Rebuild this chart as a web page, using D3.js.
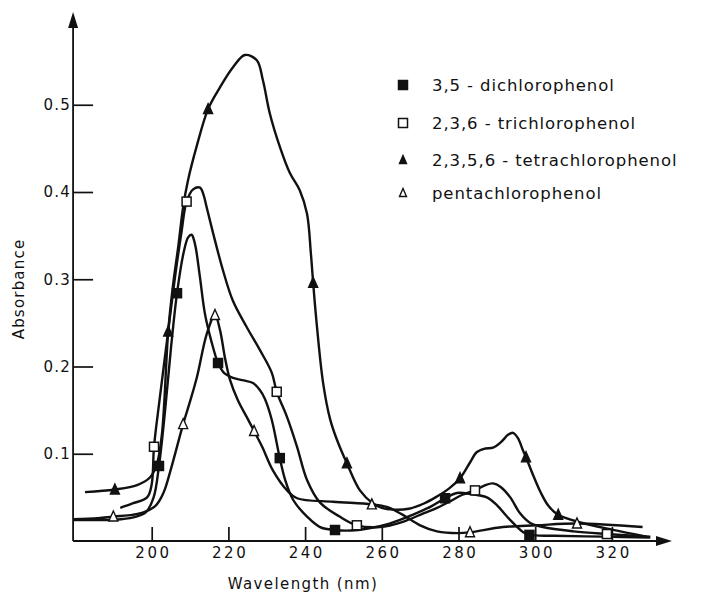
<!DOCTYPE html>
<html>
<head>
<meta charset="utf-8">
<script src="https://cdn.jsdelivr.net/npm/d3@7"></script>
<style>
  body { margin: 0; background: #fff; }
  text { font-family: 'DejaVu Sans', sans-serif; fill: #111; }
</style>
</head>
<body>
<svg id="chart" width="703" height="595"></svg>
<script>
// wavelength (nm), absorbance
const xTicks = [200, 220, 240, 260, 280, 300, 320];
const yTicks = [0.1, 0.2, 0.3, 0.4, 0.5];

const dichloroCurve = [
  [179.5, 0.024], [186, 0.024], [192, 0.025], [196, 0.028], [198.5, 0.033], [200.5, 0.05],
  [201.9, 0.086], [203.5, 0.15], [205, 0.22], [206.6, 0.284], [208.3, 0.33], [209.5, 0.348],
  [210.4, 0.351], [211.3, 0.34], [212.5, 0.305], [213.9, 0.26], [215.5, 0.23], [217.3, 0.204],
  [219, 0.192], [221.2, 0.187], [224, 0.184], [226.4, 0.181], [228.2, 0.173], [229.5, 0.163],
  [231.3, 0.139], [233.4, 0.095], [234.8, 0.07], [236.9, 0.047], [240.5, 0.028], [243.9, 0.016],
  [247.8, 0.0126], [252, 0.012], [256, 0.014], [262, 0.02], [268, 0.03], [273, 0.04],
  [276.5, 0.049], [279.6, 0.055], [283, 0.054], [287.4, 0.05], [290, 0.041], [293.5, 0.024],
  [296.9, 0.01], [298.5, 0.007], [305, 0.006], [317.7, 0.005], [330, 0.004]
];
const dichloroMarks = [[201.9, 0.086], [206.6, 0.284], [217.3, 0.204], [233.4, 0.095], [247.8, 0.0126], [276.5, 0.049], [298.5, 0.007]];

const trichloroCurve = [
  [191.8, 0.038], [195, 0.043], [198.8, 0.05], [200, 0.065], [200.6, 0.108], [202, 0.16],
  [204, 0.23], [206, 0.3], [207.8, 0.355], [209.1, 0.389], [210.8, 0.403], [212.6, 0.405],
  [213.5, 0.397], [214.3, 0.383], [216, 0.353], [218.6, 0.31], [221.2, 0.275], [224.8, 0.245],
  [228.2, 0.219], [231.3, 0.193], [232.6, 0.171], [235.3, 0.142], [237.9, 0.108], [240.5, 0.07],
  [243.9, 0.044], [249, 0.028], [253.5, 0.018], [259.5, 0.016], [265.5, 0.022], [271, 0.032],
  [274.4, 0.038], [278, 0.046], [281, 0.053], [284.3, 0.058], [287, 0.064], [289, 0.066],
  [291, 0.062], [293.5, 0.05], [296, 0.032], [298.6, 0.021], [302, 0.016], [310, 0.011],
  [318.7, 0.008], [330, 0.005]
];
const trichloroMarks = [[200.6, 0.108], [209.1, 0.389], [232.6, 0.171], [253.5, 0.018], [284.3, 0.058], [318.7, 0.008]];

const tetrachloroCurve = [
  [182.6, 0.056], [190.4, 0.059], [196.2, 0.064], [199.6, 0.073], [201.4, 0.089], [202.7, 0.124],
  [204.3, 0.24], [205.5, 0.291], [207, 0.34], [208.2, 0.383], [209.5, 0.414], [211.7, 0.452],
  [214.7, 0.495], [217.8, 0.52], [221.2, 0.543], [224.3, 0.557], [227.4, 0.551], [229, 0.528],
  [230.8, 0.49], [233.4, 0.452], [236, 0.422], [238.6, 0.402], [240.5, 0.375], [241.5, 0.33],
  [242.1, 0.296], [243, 0.25], [244.7, 0.181], [246.5, 0.14], [248.3, 0.116], [250.9, 0.089],
  [254.3, 0.058], [257.7, 0.043], [260, 0.038], [263, 0.036], [267, 0.037], [271, 0.043],
  [274, 0.05], [277.5, 0.06], [280.4, 0.072], [283, 0.09], [284.8, 0.102], [287, 0.106],
  [289, 0.107], [291, 0.113], [293, 0.122], [294.2, 0.124], [295.5, 0.118], [296.8, 0.104],
  [297.6, 0.096], [299.5, 0.075], [301.5, 0.055], [303.5, 0.04], [306, 0.03], [312, 0.021],
  [320, 0.013], [329, 0.005]
];
const tetrachloroMarks = [[190.4, 0.059], [204.3, 0.24], [214.7, 0.495], [242.1, 0.296], [250.9, 0.089], [280.4, 0.072], [297.6, 0.096], [306, 0.03]];

const pentachloroCurve = [
  [179.5, 0.025], [186, 0.026], [190, 0.028], [195, 0.03], [198, 0.033], [200.9, 0.04],
  [202.5, 0.05], [203.5, 0.06], [205.3, 0.087], [208.2, 0.134], [210, 0.16], [211.8, 0.188],
  [214.4, 0.238], [216.5, 0.259], [217.8, 0.242], [219.1, 0.21], [220.4, 0.185], [222.5, 0.161],
  [224.8, 0.142], [226.7, 0.126], [228.8, 0.108], [231.6, 0.081], [235.3, 0.058], [237.9, 0.049],
  [247.3, 0.045], [257.4, 0.042], [261.3, 0.039], [265.5, 0.03], [270, 0.018], [274.4, 0.011],
  [279.9, 0.009], [283, 0.01], [291.6, 0.016], [300.4, 0.018], [310.9, 0.02], [328, 0.016]
];
const pentachloroMarks = [[190, 0.028], [208.2, 0.134], [216.5, 0.259], [226.7, 0.126], [257.4, 0.042], [283, 0.01], [310.9, 0.02]];

const legendLabels = ['3,5 - dichlorophenol', '2,3,6 - trichlorophenol', '2,3,5,6 - tetrachlorophenol', 'pentachlorophenol'];
const markerKinds = ['squareFilled', 'squareOpen', 'triangleFilled', 'triangleOpen'];

const svg = d3.select('#chart');

const x = d3.scaleLinear().domain([200, 320]).range([151.7, 611.9]);
const y = d3.scaleLinear().domain([0, 0.5]).range([541, 104.75]);
const x0 = x(179.5);

// axes
const xAxis = svg.append('g')
  .attr('transform', `translate(0,${y(0)})`)
  .call(d3.axisBottom(x).tickValues(xTicks).tickSize(-14).tickPadding(6).tickFormat(d3.format('d')));
const yAxis = svg.append('g')
  .attr('transform', `translate(${x0},0)`)
  .call(d3.axisLeft(y).tickValues(yTicks).tickSize(-20).tickPadding(2).tickFormat(d3.format('.1f')));
[xAxis, yAxis].forEach((g) => {
  g.select('.domain').remove();
  g.selectAll('line').attr('stroke', '#111').attr('stroke-width', 1.7);
  g.selectAll('text')
    .attr('font-size', 15)
    .style('font-family', "'DejaVu Sans', sans-serif")
    .attr('fill', '#111');
});
xAxis.selectAll('text').style('letter-spacing', '2.5px').attr('dx', '1.2px');
yAxis.selectAll('text').style('letter-spacing', '1.2px');

svg.append('path')
  .attr('d', `M${x0},${y(0)}H662M${x0},${y(0)}V26`)
  .attr('fill', 'none').attr('stroke', '#111').attr('stroke-width', 1.8);
svg.append('path')
  .attr('d', `M${x0},12L${x0 - 5},28L${x0 + 5},28Z M672,${y(0)}L656,${y(0) - 5}L656,${y(0) + 5}Z`)
  .attr('fill', '#111');

// curves
const line = d3.line()
  .x((d) => x(d[0]))
  .y((d) => y(d[1]))
  .curve(d3.curveCatmullRom.alpha(0.5));

const series = [
  { curve: dichloroCurve, marks: dichloroMarks, kind: markerKinds[0] },
  { curve: trichloroCurve, marks: trichloroMarks, kind: markerKinds[1] },
  { curve: tetrachloroCurve, marks: tetrachloroMarks, kind: markerKinds[2] },
  { curve: pentachloroCurve, marks: pentachloroMarks, kind: markerKinds[3] },
];

svg.append('g')
  .selectAll('path')
  .data(series)
  .join('path')
  .attr('d', (d) => line(d.curve))
  .attr('fill', 'none')
  .attr('stroke', '#111')
  .attr('stroke-width', 2.4)
  .attr('stroke-linejoin', 'round');

const drawMarker = (g, kind, size) => {
  const h = size / 2;
  if (kind === 'squareFilled' || kind === 'squareOpen') {
    g.append('rect')
      .attr('x', -h).attr('y', -h).attr('width', size).attr('height', size)
      .attr('fill', kind === 'squareFilled' ? '#111' : '#fff')
      .attr('stroke', '#111').attr('stroke-width', 1.5);
  } else {
    g.append('path')
      .attr('d', `M0,${-h - 1}L${h},${h}L${-h},${h}Z`)
      .attr('fill', kind === 'triangleFilled' ? '#111' : '#fff')
      .attr('stroke', '#111').attr('stroke-width', 1.4)
      .attr('stroke-linejoin', 'miter');
  }
};

series.forEach((s) => {
  s.marks.forEach((m) => {
    const g = svg.append('g').attr('transform', `translate(${x(m[0])},${y(m[1])})`);
    drawMarker(g, s.kind, 9);
  });
});

// legend
const legendY = [85, 123, 160, 193];
legendLabels.forEach((label, i) => {
  const g = svg.append('g').attr('transform', `translate(403,${legendY[i]})`);
  drawMarker(g, markerKinds[i], i < 2 ? 9 : 7);
  g.append('text')
    .attr('x', 29)
    .attr('dy', '0.35em')
    .attr('font-size', 16.5)
    .style('letter-spacing', '0.9px')
    .text(label);
});

// axis titles
svg.append('text')
  .attr('transform', 'translate(24,289) rotate(-90)')
  .attr('text-anchor', 'middle')
  .attr('font-size', 15)
  .style('letter-spacing', '1.2px')
  .text('Absorbance');
svg.append('text')
  .attr('x', 303)
  .attr('y', 589)
  .attr('text-anchor', 'middle')
  .attr('font-size', 15)
  .style('letter-spacing', '1.4px')
  .text('Wavelength (nm)');
</script>
</body>
</html>
